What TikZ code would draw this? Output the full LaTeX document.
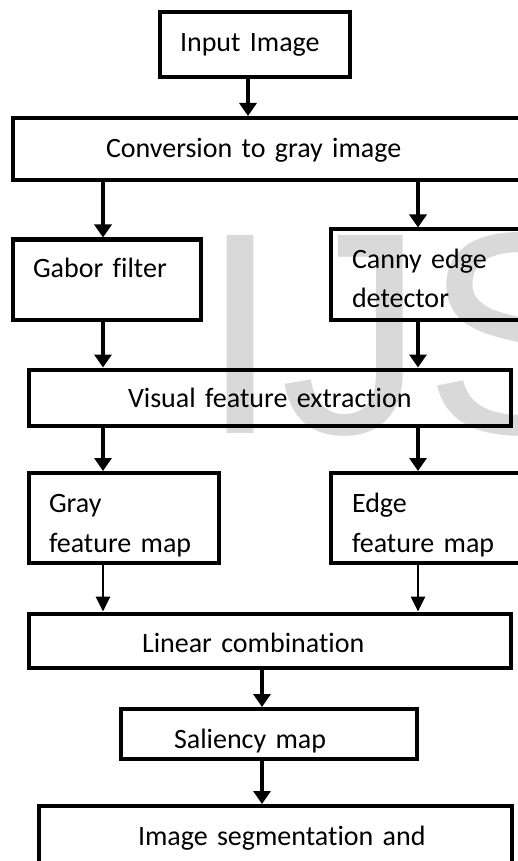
\documentclass[tikz,border=0pt]{standalone}
\usepackage{fontspec}
\setmainfont{Carlito}[Ligatures=NoCommon]
\newfontfamily\wmfont{Liberation Sans}
\usetikzlibrary{arrows.meta}

\begin{document}
\begin{tikzpicture}[x=0.5pt, y=-0.5pt,
    box/.style={draw, line width=2pt, align=left, inner ysep=0pt, text depth=0pt, font=\fontsize{14}{20}\selectfont},
    arr/.style={-{Triangle[width=8.5pt,length=6.5pt]}, line width=2pt},
    thin arr/.style={-{Triangle[width=7pt,length=7.5pt]}, line width=1.3pt},
    wm/.style={inner sep=0pt, text=black!15, font=\wmfont\fontsize{144}{144}\selectfont}
]
\useasboundingbox (0,0) rectangle (518,861);
\clip (0,0) rectangle (518,861);

\node[wm, anchor=base west] (wmark) at (200,433) {IJS};

\node[box, minimum width=95pt,     minimum height=32.5pt,  inner xsep=10.25pt, text width=74.5pt,   text height=7pt]    (input)    at (254.5,45)     {\mbox{Input Image}};
\node[box, minimum width=273.75pt, minimum height=31pt,    inner xsep=46.75pt, text width=180.25pt, text height=8.3pt]  (conv)     at (286.25,149)   {\mbox{Conversion to gray image}};
\node[box, minimum width=94.25pt,  minimum height=40.25pt, inner xsep=10.25pt, text width=73.75pt,  text height=10pt, text depth=11.75pt] (gabor) at (106.75,279.75) {\mbox{Gabor filter}};
\node[box, minimum width=114.75pt, minimum height=45.25pt, inner xsep=10.75pt, text width=93.25pt,  text height=10pt, text depth=16.75pt] (canny) at (445.25,274.75) {\mbox{Canny edge}\\detector};
\node[box, minimum width=240.75pt, minimum height=28pt,    inner xsep=49.5pt,  text width=141.75pt, text height=9.8pt]  (visual)   at (269.75,397.5) {\mbox{Visual feature extraction}};
\node[box, minimum width=95pt,     minimum height=44.75pt, inner xsep=10pt,    text width=75pt,     text height=10pt, text depth=15.75pt] (gray) at (124,517.75) {Gray\\\mbox{feature map}};
\node[box, minimum width=114.75pt, minimum height=44.75pt, inner xsep=10.75pt, text width=93.25pt,  text height=10pt, text depth=15.75pt] (edge) at (445.25,517.75) {Edge\\\mbox{feature map}};
\node[box, minimum width=240.75pt, minimum height=27pt,    inner xsep=56.5pt,  text width=127.75pt, text height=11.5pt] (linear)   at (269.75,640.5) {\mbox{Linear combination}};
\node[box, minimum width=148.25pt, minimum height=25pt,    inner xsep=26.75pt, text width=94.75pt,  text height=14pt]   (saliency) at (268.75,734)   {\mbox{Saliency map}};
\node[box, minimum width=236.5pt,  minimum height=32pt,    inner xsep=49.5pt,  text width=137.5pt,  text height=7pt]    (seg)      at (275.5,838)    {\mbox{Image segmentation and}};

\coordinate (icol) at (248,0);
\coordinate (lcol) at (103,0);
\coordinate (rcol) at (418,0);
\coordinate (mcol) at (262,0);

\draw[arr] (input.south -| icol) -- (conv.north -| icol);
\draw[arr] (conv.south -| lcol)  -- (gabor.north -| lcol);
\draw[arr] (conv.south -| rcol)  -- (canny.north -| rcol);
\draw[arr] (gabor.south -| lcol) -- (visual.north -| lcol);
\draw[arr] (canny.south -| rcol) -- (visual.north -| rcol);
\draw[arr] (visual.south -| lcol) -- (gray.north -| lcol);
\draw[arr] (visual.south -| rcol) -- (edge.north -| rcol);
\draw[thin arr] (gray.south -| lcol) -- (linear.north -| lcol);
\draw[thin arr] (edge.south -| rcol) -- (linear.north -| rcol);
\draw[arr] (linear.south -| mcol)   -- (saliency.north -| mcol);
\draw[arr] (saliency.south -| mcol) -- (seg.north -| mcol);
\end{tikzpicture}
\end{document}
